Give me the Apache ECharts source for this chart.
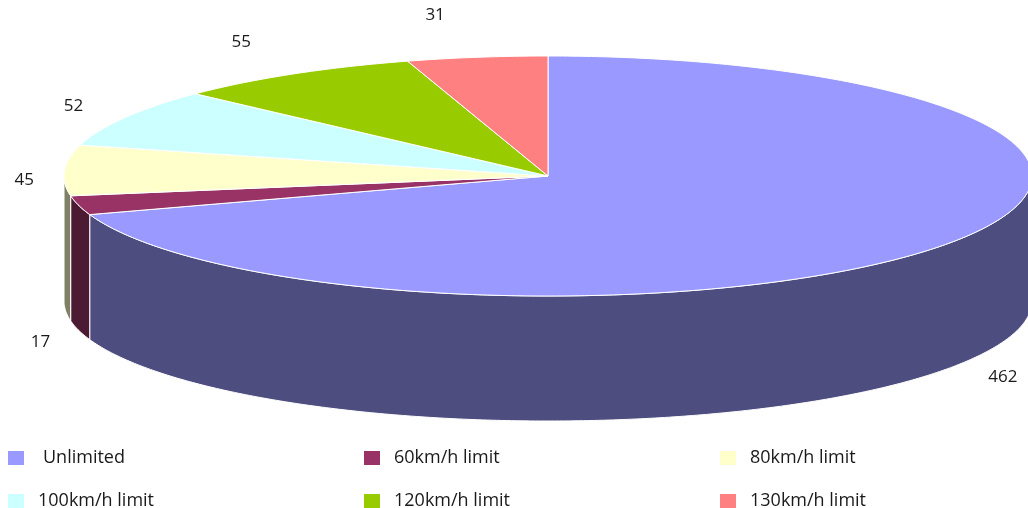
<!DOCTYPE html>
<html>
<head>
<meta charset="utf-8">
<script src="https://cdn.jsdelivr.net/npm/echarts@6/dist/echarts.min.js"></script>
<style>
  html, body { margin: 0; padding: 0; background: #fff; }
  #main { width: 1028px; height: 508px; }
</style>
</head>
<body>
<div id="main"></div>
<script>
// data
const categories = ['Unlimited', '60km/h limit', '80km/h limit', '100km/h limit', '120km/h limit', '130km/h limit'];
const values = [462, 17, 45, 52, 55, 31];

// colours (top face / side wall)
const topColors = ['#9999ff', '#993366', '#ffffcc', '#ccffff', '#99cc00', '#ff8080'];
const sideColors = ['#4d4d7f', '#4d1a33', '#808066', '#668080', '#4d6600', '#804040'];

const total = values.reduce((a, b) => a + b, 0);
const pie = { cx: 548, cy: 176, rx: 484, ry: 120, depth: 125 };
const font = '"Open Sans", "Noto Sans", sans-serif';

function pt(a, dy) {
  return [pie.cx + pie.rx * Math.sin(a), pie.cy - pie.ry * Math.cos(a) + (dy || 0)];
}
function arc(a0, a1, dy) {
  let n = Math.max(2, Math.ceil((a1 - a0) / 0.01));
  let pts = [];
  for (let k = 0; k <= n; k++) pts.push(pt(a0 + (a1 - a0) * k / n, dy));
  return pts;
}

const chart = echarts.init(document.getElementById('main'));

// legend drawn as graphic, 3 columns
const legendCols = [8, 364, 720];
const legendRows = [451, 494];
let legendItems = [];
categories.forEach((name, i) => {
  let x = legendCols[i % 3], y = legendRows[Math.floor(i / 3)];
  legendItems.push({
    type: 'rect', shape: { x: x, y: y, width: 16, height: 14 },
    style: { fill: topColors[i] }
  });
  legendItems.push({
    type: 'text', x: x + (i === 0 ? 35 : 30), y: y + 7,
    style: { text: name, fill: '#1a1a1a', font: '18px ' + font, textVerticalAlign: 'middle' }
  });
});

let option = {
  animation: false,
  graphic: legendItems,
  series: [{
    type: 'custom',
    coordinateSystem: 'none',
    data: values.map((v, i) => ({ name: categories[i], value: v })),
    renderItem: function (params, api) {
      let i = params.dataIndex;
      let before = values.slice(0, i).reduce((a, b) => a + b, 0);
      let a0 = before / total * Math.PI * 2;
      let a1 = a0 + api.value(0) / total * Math.PI * 2;
      let children = [];
      // front wall
      let s0 = Math.max(a0, Math.PI / 2), s1 = Math.min(a1, Math.PI * 1.5);
      if (s1 > s0) {
        children.push({
          type: 'polygon',
          shape: { points: arc(s0, s1, 0).concat(arc(s0, s1, pie.depth).reverse()) },
          style: { fill: sideColors[i], stroke: '#fff', lineWidth: 1 }
        });
      }
      // top face
      children.push({
        type: 'polygon',
        shape: { points: [[pie.cx, pie.cy]].concat(arc(a0, a1, 0)) },
        style: { fill: topColors[i], stroke: '#fff', lineWidth: 1 }
      });
      // value label, a little counter-clockwise of the slice middle
      let mid = (a0 + a1) / 2;
      let m = mid - 0.07;
      let front = Math.cos(mid) < 0;
      let lx = pie.cx + (pie.rx + (front ? 50 : 40)) * Math.sin(m);
      let ly = pie.cy - (pie.ry + 45) * Math.cos(m) + (front ? pie.depth - 10 : 0);
      children.push({
        type: 'text', x: lx, y: ly,
        style: {
          text: String(api.value(0)), fill: '#1a1a1a', font: '17px ' + font,
          textAlign: 'center', textVerticalAlign: 'middle'
        }
      });
      return { type: 'group', children: children };
    }
  }]
};
chart.setOption(option);
</script>
</body>
</html>
